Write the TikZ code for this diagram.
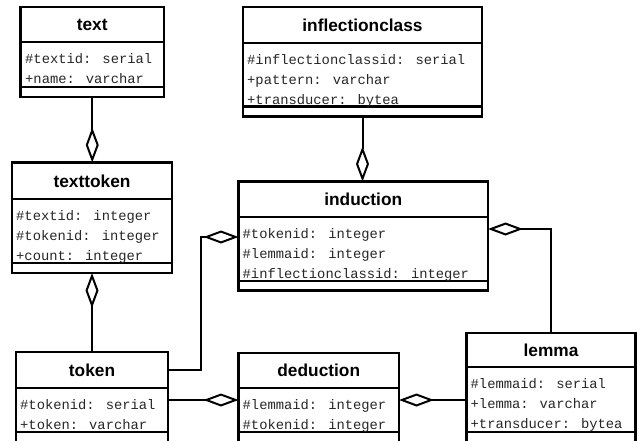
\documentclass[tikz,border=0pt]{standalone}
\usepackage{fontspec}
\setmainfont{Liberation Sans}
\newfontfamily\monof{Liberation Mono}
\usetikzlibrary{arrows.meta}
\tikzset{
  cls/.style={draw, line width=2.4pt, anchor=north west, inner sep=0pt, outer sep=0pt},
  sepline/.style={line width=2.4pt},
  ttl/.style={font=\fontsize{17.3}{20}\selectfont\bfseries, inner sep=0pt},
  attr/.style={font=\fontsize{13.8}{16}\selectfont\monof, text=black!85, anchor=base west, inner sep=0pt},
  conn/.style={line width=2pt},
  aggtip/.tip={Diamond[fill=white, length=35pt, width=13pt, line width=2pt]},
}
\begin{document}
\begin{tikzpicture}[x=1pt,y=-1pt]
\clip (0,0) rectangle (637,440);
% text
\node[cls, minimum width=143.5pt, minimum height=90pt] (text) at (20.5,7) {};
\draw[sepline] (text.west |- 0,42) -- (text.east |- 0,42);
\draw[sepline] (text.west |- 0,87) -- (text.east |- 0,87);
\node[ttl] (text-t) at (92.25,24.5) {text};
\node[attr] (text-a1) at (25,63) {\#textid: serial};
\node[attr] (text-a2) at (25,83) {+name: varchar};
% inflectionclass
\node[cls, minimum width=239pt, minimum height=109.5pt] (infl) at (243,7) {};
\draw[sepline] (infl.west |- 0,43) -- (infl.east |- 0,43);
\draw[sepline] (infl.west |- 0,106.5) -- (infl.east |- 0,106.5);
\node[ttl] (infl-t) at (362.5,25) {inflectionclass};
\node[attr] (infl-a1) at (247,64) {\#inflectionclassid: serial};
\node[attr] (infl-a2) at (247,84) {+pattern: varchar};
\node[attr] (infl-a3) at (247,104) {+transducer: bytea};
% texttoken
\node[cls, minimum width=160pt, minimum height=110.5pt] (tt) at (12,162.5) {};
\draw[sepline] (tt.west |- 0,199) -- (tt.east |- 0,199);
\draw[sepline] (tt.west |- 0,263) -- (tt.east |- 0,263);
\node[ttl] (tt-t) at (92,181) {texttoken};
\node[attr] (tt-a1) at (16,220) {\#textid: integer};
\node[attr] (tt-a2) at (16,240) {\#tokenid: integer};
\node[attr] (tt-a3) at (16,260) {+count: integer};
% induction
\node[cls, minimum width=249.5pt, minimum height=109pt] (ind) at (238.5,181.5) {};
\draw[sepline] (ind.west |- 0,217) -- (ind.east |- 0,217);
\draw[sepline] (ind.west |- 0,281) -- (ind.east |- 0,281);
\node[ttl] (ind-t) at (363.25,199.5) {induction};
\node[attr] (ind-a1) at (242.5,238) {\#tokenid: integer};
\node[attr] (ind-a2) at (242.5,258) {\#lemmaid: integer};
\node[attr] (ind-a3) at (242.5,278) {\#inflectionclassid: integer};
% token
\node[cls, minimum width=152pt, minimum height=110pt] (token) at (16,352) {};
\draw[sepline] (token.west |- 0,388) -- (token.east |- 0,388);
\draw[sepline] (token.west |- 0,432) -- (token.east |- 0,432);
\node[ttl] (token-t) at (92,370) {token};
\node[attr] (token-a1) at (20,409) {\#tokenid: serial};
\node[attr] (token-a2) at (20,429) {+token: varchar};
% deduction
\node[cls, minimum width=160.5pt, minimum height=110pt] (ded) at (238.5,353) {};
\draw[sepline] (ded.west |- 0,388) -- (ded.east |- 0,388);
\draw[sepline] (ded.west |- 0,432) -- (ded.east |- 0,432);
\node[ttl] (ded-t) at (318.75,370.5) {deduction};
\node[attr] (ded-a1) at (242.5,409) {\#lemmaid: integer};
\node[attr] (ded-a2) at (242.5,429) {\#tokenid: integer};
% lemma
\node[cls, minimum width=169pt, minimum height=130pt] (lemma) at (466.5,333) {};
\draw[sepline] (lemma.west |- 0,367) -- (lemma.east |- 0,367);
\draw[sepline] (lemma.west |- 0,432) -- (lemma.east |- 0,432);
\node[ttl] (lemma-t) at (551,350) {lemma};
\node[attr] (lemma-a1) at (470.5,388) {\#lemmaid: serial};
\node[attr] (lemma-a2) at (470.5,408) {+lemma: varchar};
\node[attr] (lemma-a3) at (470.5,428) {+transducer: bytea};
% connectors
\draw[conn, -aggtip] (text.south) -- (text.south |- tt.north);
\draw[conn, aggtip-] (tt.south) -- (tt.south |- token.north);
\draw[conn, -aggtip] (infl.south) -- (infl.south |- ind.north);
\draw[conn, -aggtip] (token.east |- 0,370) -| (201,237) -- (ind.west |- 0,237);
\draw[conn, -aggtip] (token.east |- 0,400) -- (ded.west |- 0,400);
\draw[conn, -aggtip] (lemma.west |- 0,400) -- (ded.east |- 0,400);
\draw[conn, -aggtip] (lemma.north -| 551,0) |- (ind.east |- 0,229);
\end{tikzpicture}
\end{document}
